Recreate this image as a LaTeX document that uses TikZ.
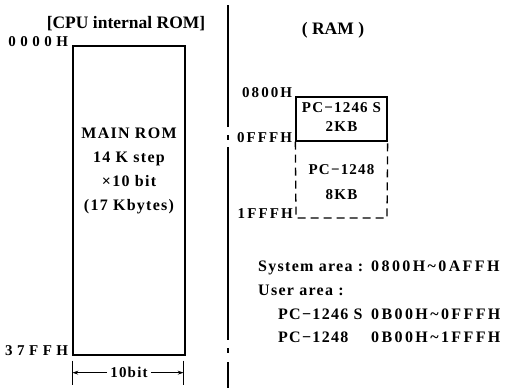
\documentclass[tikz,border=0pt]{standalone}
\usepackage{fontspec}
\setmainfont{Liberation Serif}
\newfontfamily\hexfont{Liberation Serif}[LetterSpace=30]
\newfontfamily\ramhexfont{Liberation Serif}[LetterSpace=14]
\newfontfamily\ramfont{Liberation Serif}[LetterSpace=8]
\newfontfamily\rangefont{Liberation Serif}[LetterSpace=15]
\usetikzlibrary{arrows.meta,calc,positioning}

\begin{document}
\begin{tikzpicture}[x=1pt,y=-1pt,>={Stealth[length=6pt,width=4pt]},
title/.style={font=\fontsize{17.5}{17.5}\selectfont\bfseries,inner sep=0pt},
addr/.style={font=\hexfont\fontsize{15}{15}\selectfont\bfseries,inner sep=0pt,anchor=base east},
ramaddr/.style={addr,font=\ramhexfont\fontsize{15}{15}\selectfont\bfseries},
memblock/.style={draw=black,line width=1.3pt,inner sep=0pt},
blocktext/.style={font=\ramfont\fontsize{15}{15}\selectfont\bfseries,inner sep=0pt},
romtext/.style={font=\ramfont\fontsize{16}{24}\selectfont\bfseries,align=center,inner sep=0pt},
dashside/.style={line width=1.3pt,dash pattern=on 8pt off 5pt},
divider/.style={line width=1.5pt,dash pattern=on 122pt off 8pt on 5pt off 7pt on 193pt off 8pt on 5pt off 9pt on 30pt},
note/.style={font=\ramfont\fontsize{16}{16}\selectfont\bfseries,inner sep=0pt,anchor=base west},
hexrange/.style={note,font=\rangefont\fontsize{16}{16}\selectfont\bfseries}]
\useasboundingbox (0,0) rectangle (505,388);
% CPU internal ROM
\node[title] (romtitle) at (126,24) {[CPU internal ROM]};
\node[memblock,minimum width=112pt,minimum height=309pt] (rom) at (129,200.5) {};
\node[addr] (a0000) at ($(rom.north west)+(-4,1)$) {0000H};
\node[addr] (a37ff) at ($(rom.south west)+(-4,0)$) {37FFH};
\node[romtext] (romlbl) at (129,171) {MAIN ROM\\14 K step\\×10 bit\\(17 Kbytes)};
% width of the ROM
\coordinate (wl) at ($(rom.south west)+(0,17)$);
\coordinate (wr) at ($(rom.south east)+(-2,17)$);
\node[blocktext,fill=white,inner xsep=3pt] (wlbl) at ($(rom.south)+(0,17)$) {10bit};
\draw[line width=1pt,->] (wlbl) -- (wl);
\draw[line width=1pt,->] (wlbl) -- (wr);
\draw[line width=1pt] ($(wl)+(0,-12)$) -- ($(wl)+(0,12)$);
\draw[line width=1pt] ($(wr)+(0,-12)$) -- ($(wr)+(0,12)$);
% divider
\draw[divider] (228,5) -- (228,388);
% RAM
\node[title] (ramtitle) at (333,30) {( RAM )};
\node[memblock,minimum width=91pt,minimum height=44pt] (ram2) at (341.5,119) {};
\coordinate (ram8sw) at (296,218);
\coordinate (ram8se) at (387,218);
\draw[dashside] (ram2.south west) -- (ram8sw) -- (ram8se) -- (ram2.south east);
\node[ramaddr] (a0800) at ($(ram2.north west)+(-3,1)$) {0800H};
\node[ramaddr] (a0fff) at ($(ram2.south west)+(-3,1)$) {0FFFH};
\node[ramaddr] (a1fff) at ($(ram8sw)+(-3,0)$) {1FFFH};
\node[blocktext] (pc46) at (341.5,108) {PC−1246 S};
\node[blocktext] (kb2) at (341.5,127) {2KB};
\node[blocktext] (pc48) at (341.5,170) {PC−1248};
\node[blocktext] (kb8) at (341.5,195) {8KB};
% areas
\node[note] (sysarea) at (258,271) {System area :};
\node[hexrange] (sysrng) at (371,271) {0800H\textasciitilde 0AFFH};
\node[note] (usrarea) at (258,295) {User area :};
\node[note] (u46name) at (278,319) {PC−1246 S};
\node[hexrange] (u46rng) at (371,319) {0B00H\textasciitilde 0FFFH};
\node[note] (u48name) at (278,342) {PC−1248};
\node[hexrange] (u48rng) at (371,342) {0B00H\textasciitilde 1FFFH};
\end{tikzpicture}
\end{document}
